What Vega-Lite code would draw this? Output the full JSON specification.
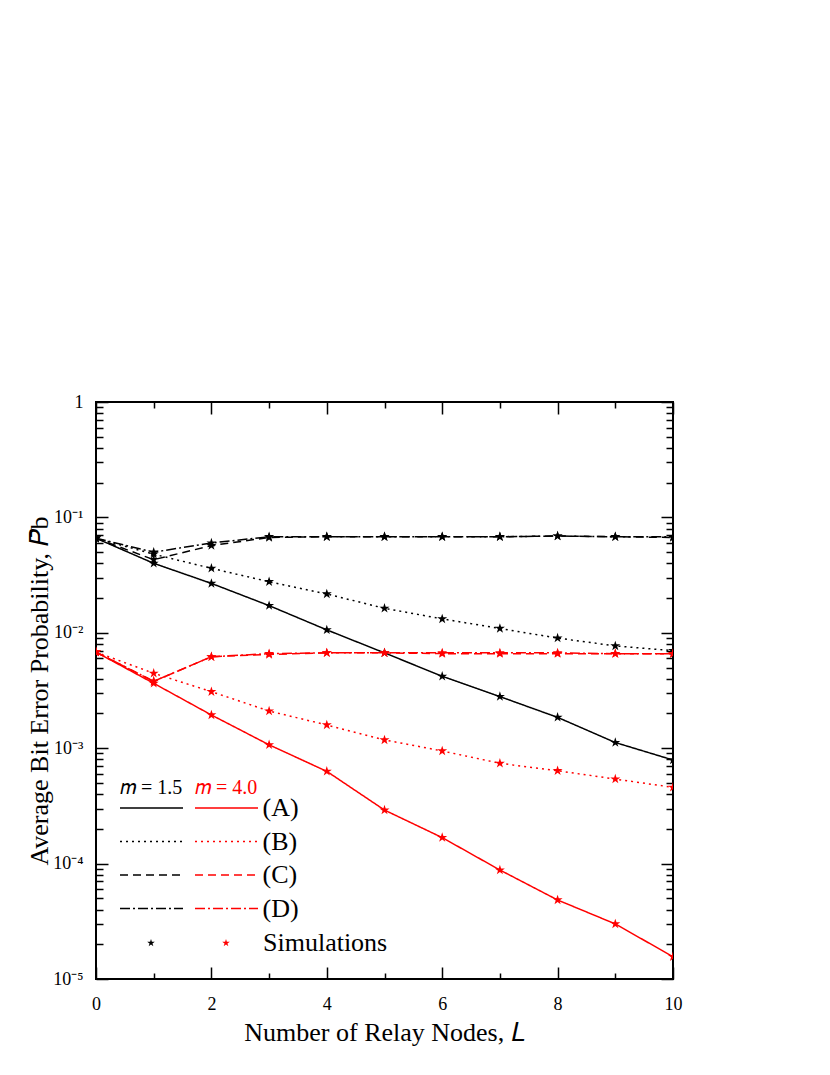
{
  "$schema": "https://vega.github.io/schema/vega-lite/v6.json",
  "width": 577,
  "height": 577,
  "autosize": "none",
  "padding": {"left": 96, "top": 402, "right": 157, "bottom": 96},
  "background": "white",
  "data": {"values": [
    {"m":"1.5","curve":"(A)","L":0,"P":0.066},{"m":"1.5","curve":"(A)","L":1,"P":0.040},{"m":"1.5","curve":"(A)","L":2,"P":0.0268},{"m":"1.5","curve":"(A)","L":3,"P":0.0172},{"m":"1.5","curve":"(A)","L":4,"P":0.0106},{"m":"1.5","curve":"(A)","L":5,"P":0.0067},{"m":"1.5","curve":"(A)","L":6,"P":0.0042},{"m":"1.5","curve":"(A)","L":7,"P":0.0028},{"m":"1.5","curve":"(A)","L":8,"P":0.00185},{"m":"1.5","curve":"(A)","L":9,"P":0.00112},{"m":"1.5","curve":"(A)","L":10,"P":0.00079},
    {"m":"1.5","curve":"(B)","L":0,"P":0.066},{"m":"1.5","curve":"(B)","L":1,"P":0.048},{"m":"1.5","curve":"(B)","L":2,"P":0.0362},{"m":"1.5","curve":"(B)","L":3,"P":0.0277},{"m":"1.5","curve":"(B)","L":4,"P":0.0217},{"m":"1.5","curve":"(B)","L":5,"P":0.0163},{"m":"1.5","curve":"(B)","L":6,"P":0.0132},{"m":"1.5","curve":"(B)","L":7,"P":0.0109},{"m":"1.5","curve":"(B)","L":8,"P":0.0090},{"m":"1.5","curve":"(B)","L":9,"P":0.0077},{"m":"1.5","curve":"(B)","L":10,"P":0.0070},
    {"m":"1.5","curve":"(C)","L":0,"P":0.066},{"m":"1.5","curve":"(C)","L":1,"P":0.043},{"m":"1.5","curve":"(C)","L":2,"P":0.057},{"m":"1.5","curve":"(C)","L":3,"P":0.067},{"m":"1.5","curve":"(C)","L":4,"P":0.068},{"m":"1.5","curve":"(C)","L":5,"P":0.068},{"m":"1.5","curve":"(C)","L":6,"P":0.068},{"m":"1.5","curve":"(C)","L":7,"P":0.068},{"m":"1.5","curve":"(C)","L":8,"P":0.069},{"m":"1.5","curve":"(C)","L":9,"P":0.068},{"m":"1.5","curve":"(C)","L":10,"P":0.067},
    {"m":"1.5","curve":"(D)","L":0,"P":0.066},{"m":"1.5","curve":"(D)","L":1,"P":0.050},{"m":"1.5","curve":"(D)","L":2,"P":0.060},{"m":"1.5","curve":"(D)","L":3,"P":0.068},{"m":"1.5","curve":"(D)","L":4,"P":0.068},{"m":"1.5","curve":"(D)","L":5,"P":0.068},{"m":"1.5","curve":"(D)","L":6,"P":0.068},{"m":"1.5","curve":"(D)","L":7,"P":0.068},{"m":"1.5","curve":"(D)","L":8,"P":0.069},{"m":"1.5","curve":"(D)","L":9,"P":0.068},{"m":"1.5","curve":"(D)","L":10,"P":0.068},
    {"m":"4.0","curve":"(A)","L":0,"P":0.0068},{"m":"4.0","curve":"(A)","L":1,"P":0.00365},{"m":"4.0","curve":"(A)","L":2,"P":0.00194},{"m":"4.0","curve":"(A)","L":3,"P":0.00107},{"m":"4.0","curve":"(A)","L":4,"P":0.00063},{"m":"4.0","curve":"(A)","L":5,"P":0.000291},{"m":"4.0","curve":"(A)","L":6,"P":0.000168},{"m":"4.0","curve":"(A)","L":7,"P":0.000088},{"m":"4.0","curve":"(A)","L":8,"P":0.0000484},{"m":"4.0","curve":"(A)","L":9,"P":0.000030},{"m":"4.0","curve":"(A)","L":10,"P":0.0000156},
    {"m":"4.0","curve":"(B)","L":0,"P":0.0068},{"m":"4.0","curve":"(B)","L":1,"P":0.00446},{"m":"4.0","curve":"(B)","L":2,"P":0.00309},{"m":"4.0","curve":"(B)","L":3,"P":0.0021},{"m":"4.0","curve":"(B)","L":4,"P":0.00159},{"m":"4.0","curve":"(B)","L":5,"P":0.00118},{"m":"4.0","curve":"(B)","L":6,"P":0.000946},{"m":"4.0","curve":"(B)","L":7,"P":0.00074},{"m":"4.0","curve":"(B)","L":8,"P":0.000638},{"m":"4.0","curve":"(B)","L":9,"P":0.00054},{"m":"4.0","curve":"(B)","L":10,"P":0.000458},
    {"m":"4.0","curve":"(C)","L":0,"P":0.0068},{"m":"4.0","curve":"(C)","L":1,"P":0.0038},{"m":"4.0","curve":"(C)","L":2,"P":0.0062},{"m":"4.0","curve":"(C)","L":3,"P":0.0065},{"m":"4.0","curve":"(C)","L":4,"P":0.0067},{"m":"4.0","curve":"(C)","L":5,"P":0.0067},{"m":"4.0","curve":"(C)","L":6,"P":0.0066},{"m":"4.0","curve":"(C)","L":7,"P":0.0066},{"m":"4.0","curve":"(C)","L":8,"P":0.0066},{"m":"4.0","curve":"(C)","L":9,"P":0.0066},{"m":"4.0","curve":"(C)","L":10,"P":0.0066},
    {"m":"4.0","curve":"(D)","L":0,"P":0.0068},{"m":"4.0","curve":"(D)","L":1,"P":0.0038},{"m":"4.0","curve":"(D)","L":2,"P":0.0062},{"m":"4.0","curve":"(D)","L":3,"P":0.0066},{"m":"4.0","curve":"(D)","L":4,"P":0.0067},{"m":"4.0","curve":"(D)","L":5,"P":0.0067},{"m":"4.0","curve":"(D)","L":6,"P":0.0067},{"m":"4.0","curve":"(D)","L":7,"P":0.0067},{"m":"4.0","curve":"(D)","L":8,"P":0.0067},{"m":"4.0","curve":"(D)","L":9,"P":0.0066},{"m":"4.0","curve":"(D)","L":10,"P":0.0066}
  ]},
  "config": {
    "font": "Liberation Serif",
    "view": {"stroke": "black", "strokeWidth": 2},
    "axis": {"labelFont": "Liberation Serif", "labelFontSize": 18, "labelColor": "black", "tickColor": "black", "tickWidth": 1.5, "domain": false, "grid": false, "titleFont": "Liberation Serif", "titleFontSize": 26, "titleFontWeight": "normal", "titleColor": "black", "labelOverlap": false, "labelFlush": false},
    "legend": {"labelFont": "Liberation Serif", "titleFont": "Liberation Serif", "titleFontWeight": "normal", "labelColor": "black", "padding": 0, "orient": "none"}
  },
  "layer": [
    {
      "transform": [{"filter": "datum.m === '1.5'"}],
      "mark": {"type": "line", "color": "black", "strokeWidth": 1.5, "clip": true},
      "encoding": {
        "x": {"field": "L", "type": "quantitative", "scale": {"domain": [0, 10]},
          "axis": {"orient": "bottom", "values": [0,1,2,3,4,5,6,7,8,9,10], "labelExpr": "datum.value % 2 === 0 ? datum.label : ''",
            "tickSize": {"condition": {"test": "datum.value % 2 === 0", "value": -12}, "value": -6},
            "labelPadding": 28, "title": "Number of Relay Nodes, 𝐿", "titleX": 288.5, "titleY": 61, "titleBaseline": "alphabetic", "titleAlign": "center"}},
        "y": {"field": "P", "type": "quantitative", "scale": {"type": "log", "domain": [0.00001, 1]},
          "axis": {"orient": "left", "values": [0.00001,0.00002,0.00003,0.00004,0.00005,0.00006,0.00007,0.00008,0.00009,0.0001,0.0002,0.0003,0.0004,0.0005,0.0006,0.0007,0.0008,0.0009,0.001,0.002,0.003,0.004,0.005,0.006,0.007,0.008,0.009,0.01,0.02,0.03,0.04,0.05,0.06,0.07,0.08,0.09,0.1,0.2,0.3,0.4,0.5,0.6,0.7,0.8,0.9,1],
            "labelExpr": "abs(log(datum.value)/LN10 - round(log(datum.value)/LN10)) < 0.001 ? (datum.value > 0.99 ? '1' : '10' + ['','⁻¹','⁻²','⁻³','⁻⁴','⁻⁵'][round(-log(datum.value)/LN10)]) : ''",
            "tickSize": {"condition": {"test": "abs(log(datum.value)/LN10 - round(log(datum.value)/LN10)) < 0.001", "value": -12}, "value": -7},
            "labelPadding": 25, "title": "Average Bit Error Probability, 𝑃̄b", "titleX": -49, "titleY": 288.5, "titleAngle": 270, "titleBaseline": "alphabetic", "titleAlign": "center"}},
        "strokeDash": {"field": "curve", "type": "nominal", "scale": {"domain": ["(A)","(B)","(C)","(D)"], "range": [[1,0],[2,4],[8,5],[10,3,2,3]]},
          "legend": {"orient": "none", "legendX": 24, "legendY": 376, "title": "𝑚 = 1.5", "titleColor": "black", "titleFontSize": 20, "titlePadding": -3, "symbolType": "M-6.3,0H6.3", "symbolSize": 100, "symbolStrokeWidth": 1.5, "symbolStrokeColor": "black", "symbolOffset": 18.5, "labelFontSize": 26, "labelExpr": "''", "labelOffset": 23, "rowPadding": 7.5}}
      }
    },
    {
      "transform": [{"filter": "datum.m === '4.0'"}],
      "mark": {"type": "line", "color": "red", "strokeWidth": 1.5, "clip": true},
      "encoding": {
        "x": {"field": "L", "type": "quantitative", "scale": {"domain": [0, 10]},
          "axis": {"orient": "top", "values": [0,1,2,3,4,5,6,7,8,9,10], "labels": false, "title": null,
            "tickSize": {"condition": {"test": "datum.value % 2 === 0", "value": -12}, "value": -6}}},
        "y": {"field": "P", "type": "quantitative", "scale": {"type": "log", "domain": [0.00001, 1]},
          "axis": {"orient": "right", "values": [0.00001,0.00002,0.00003,0.00004,0.00005,0.00006,0.00007,0.00008,0.00009,0.0001,0.0002,0.0003,0.0004,0.0005,0.0006,0.0007,0.0008,0.0009,0.001,0.002,0.003,0.004,0.005,0.006,0.007,0.008,0.009,0.01,0.02,0.03,0.04,0.05,0.06,0.07,0.08,0.09,0.1,0.2,0.3,0.4,0.5,0.6,0.7,0.8,0.9,1],
            "labels": false, "title": null,
            "tickSize": {"condition": {"test": "abs(log(datum.value)/LN10 - round(log(datum.value)/LN10)) < 0.001", "value": -12}, "value": -7}}},
        "strokeDash": {"field": "curve", "type": "nominal", "scale": {"domain": ["(A)","(B)","(C)","(D)"], "range": [[1,0],[2,4],[8,5],[10,3,2,3]]},
          "legend": {"orient": "none", "legendX": 99, "legendY": 376, "title": "𝑚 = 4.0", "titleColor": "red", "titleFontSize": 20, "titlePadding": -3, "symbolType": "M-6.3,0H6.3", "symbolSize": 100, "symbolStrokeWidth": 1.5, "symbolStrokeColor": "red", "symbolOffset": 18.5, "labelFontSize": 26, "labelOffset": 23, "rowPadding": 7.5}}
      }
    },
    {
      "transform": [{"filter": "datum.m === '1.5'"}],
      "mark": {"type": "point", "filled": true, "color": "black", "opacity": 1, "size": 110, "clip": true},
      "encoding": {
        "x": {"field": "L", "type": "quantitative", "scale": {"domain": [0, 10]}, "axis": null},
        "y": {"field": "P", "type": "quantitative", "scale": {"type": "log", "domain": [0.00001, 1]}, "axis": null},
        "shape": {"field": "m", "type": "nominal", "scale": {"range": ["M0,-1L0.2245,-0.309L0.951,-0.309L0.363,0.118L0.588,0.809L0,0.382L-0.588,0.809L-0.363,0.118L-0.951,-0.309L-0.2245,-0.309Z"]},
          "legend": {"orient": "none", "legendX": 42, "legendY": 528, "title": null, "symbolSize": 64, "symbolFillColor": "black", "symbolStrokeColor": "black", "symbolStrokeWidth": 0, "labelFontSize": 26, "labelExpr": "''"}}
      }
    },
    {
      "transform": [{"filter": "datum.m === '4.0'"}],
      "mark": {"type": "point", "filled": true, "color": "red", "opacity": 1, "size": 110, "clip": true},
      "encoding": {
        "x": {"field": "L", "type": "quantitative", "scale": {"domain": [0, 10]}, "axis": null},
        "y": {"field": "P", "type": "quantitative", "scale": {"type": "log", "domain": [0.00001, 1]}, "axis": null},
        "shape": {"field": "m", "type": "nominal", "scale": {"range": ["M0,-1L0.2245,-0.309L0.951,-0.309L0.363,0.118L0.588,0.809L0,0.382L-0.588,0.809L-0.363,0.118L-0.951,-0.309L-0.2245,-0.309Z"]},
          "legend": {"orient": "none", "legendX": 117, "legendY": 528, "title": null, "symbolSize": 64, "symbolFillColor": "red", "symbolStrokeColor": "red", "symbolStrokeWidth": 0, "labelFontSize": 26, "labelOffset": 24, "labelExpr": "'Simulations'"}}
      }
    }
  ],
  "resolve": {"scale": {"strokeDash": "independent", "shape": "independent"}, "axis": {"x": "independent", "y": "independent"}}
}
